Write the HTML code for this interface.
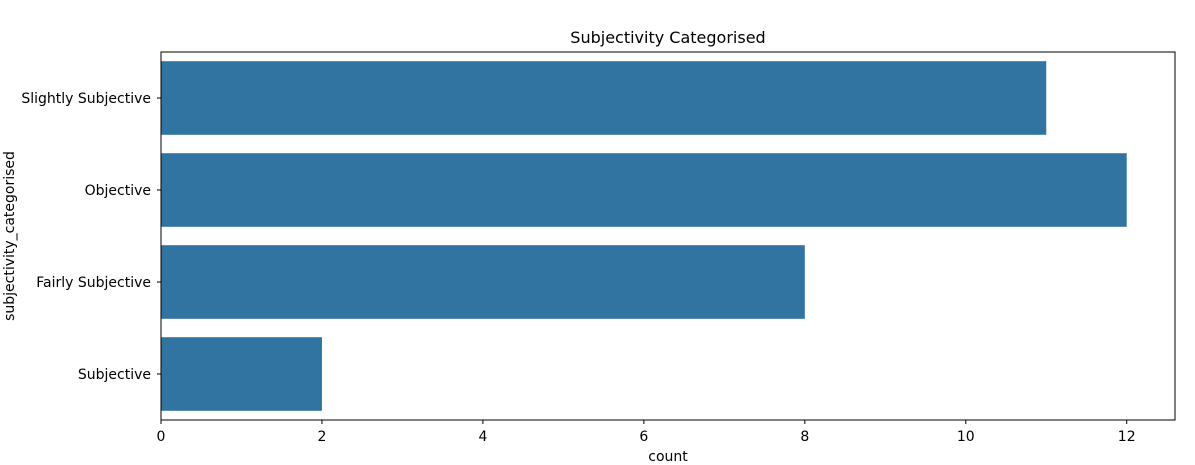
<!DOCTYPE html>
<html><head><meta charset="utf-8"><style>
body{margin:0;background:#fff;}
svg{display:block;font-family:"DejaVu Sans","Liberation Sans",sans-serif;}
</style></head><body>
<svg id="chart" width="1195" height="465"></svg>
<script>
const categories=["Slightly Subjective","Objective","Fairly Subjective","Subjective"];
const counts=[11,12,8,2];
const xTicks=[0,2,4,6,8,10,12];
const NS="http://www.w3.org/2000/svg";
const svg=document.getElementById('chart');
const L=161,R=1175,T=52,B=420,xMax=12.6;
const x=v=>L+v/xMax*(R-L);
const band=(B-T)/categories.length;
const y=i=>T+band*(i+0.5);
function mk(t,a,p){const e=document.createElementNS(NS,t);for(const k in a)e.setAttribute(k,a[k]);(p||svg).appendChild(e);return e;}
counts.forEach((v,i)=>{
 const r=mk('rect',{x:x(0),y:y(i)-band*0.4,width:x(v)-x(0),height:band*0.8,fill:'#3274a1'});
 
 
 mk('line',{x1:L,x2:L-4,y1:y(i),y2:y(i),stroke:'#000','stroke-width':1});
 const t=mk('text',{x:L-10,y:y(i)+5,'text-anchor':'end','font-size':14});
 t.textContent=categories[i];
 
 
});
xTicks.forEach(v=>{
 mk('line',{x1:x(v),x2:x(v),y1:B,y2:B+4,stroke:'#000','stroke-width':1});
 const t=mk('text',{x:x(v),y:B+21,'text-anchor':'middle','font-size':14});
 t.textContent=v;
 
 
});
const f=mk('rect',{x:L,y:T,width:R-L,height:B-T,fill:'none',stroke:'#000','stroke-width':1});


const ti=mk('text',{x:(L+R)/2,y:43,'text-anchor':'middle','font-size':16});
ti.textContent='Subjectivity Categorised';


const xl=mk('text',{x:(L+R)/2,y:461,'text-anchor':'middle','font-size':14});
xl.textContent='count';


const yl=mk('text',{x:14,y:(T+B)/2,'text-anchor':'middle','font-size':14,transform:'rotate(-90 14 '+(T+B)/2+')'});
yl.textContent='subjectivity_categorised';


</script>
</body></html>
